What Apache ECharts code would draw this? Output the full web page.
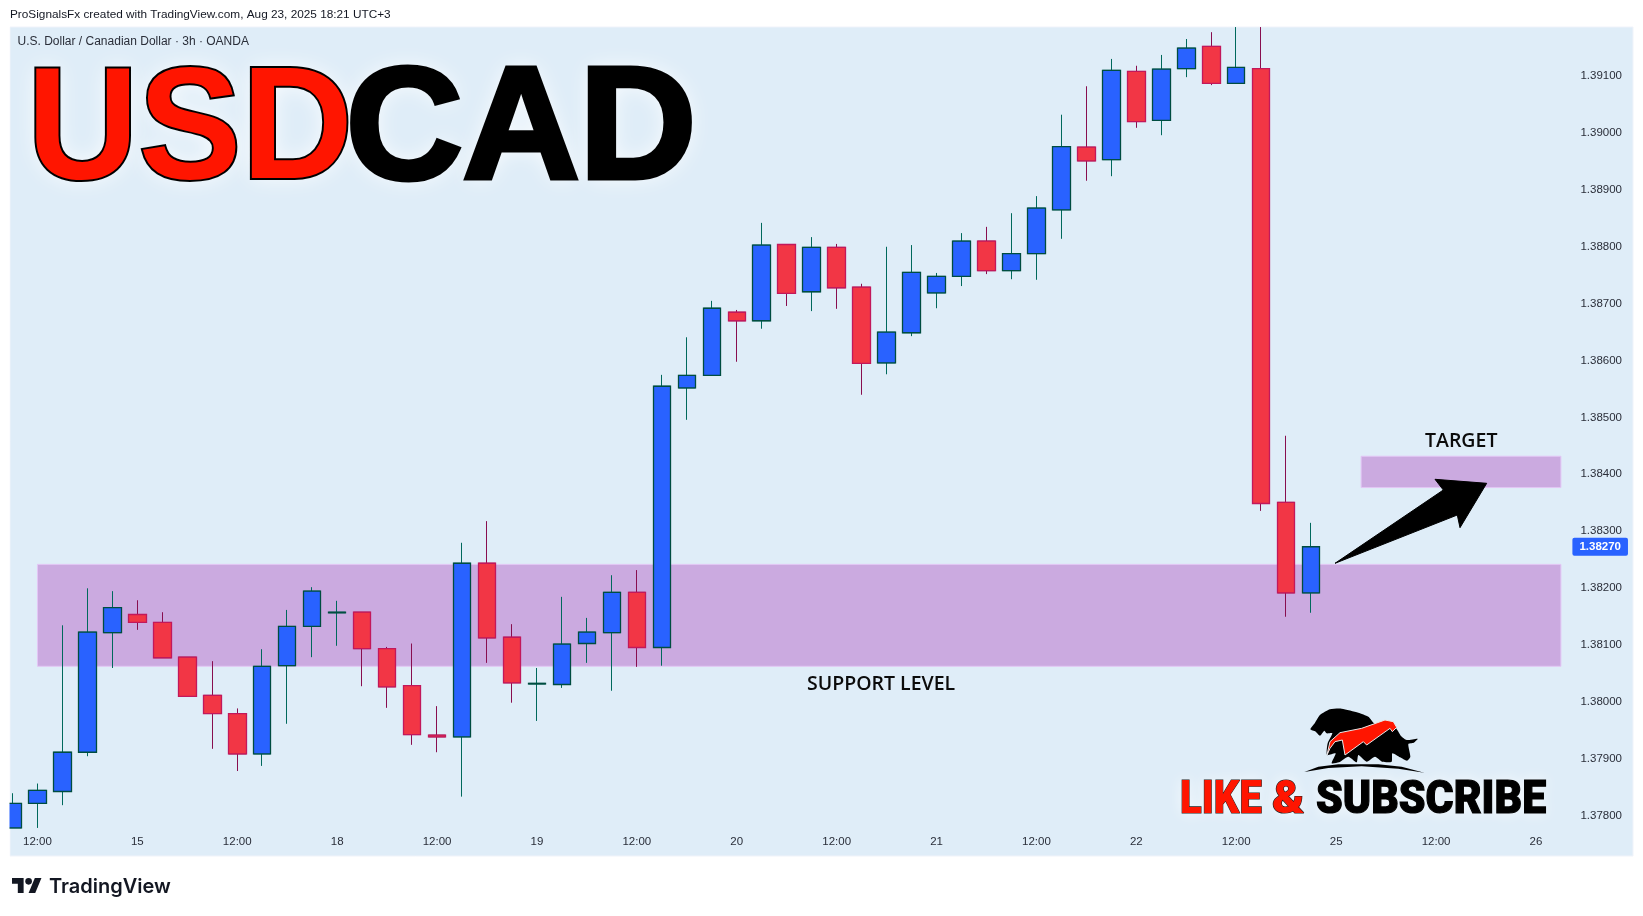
<!DOCTYPE html>
<html><head><meta charset="utf-8">
<style>html,body{margin:0;padding:0;background:#fff}#c{width:1643px;height:916px}</style>
<script src="https://cdn.jsdelivr.net/npm/echarts@6/dist/echarts.min.js"></script>
</head><body><div id="c"></div>
<script>
// 3h candles, index 0..52 (values that leave the visible pane are read at its edge)
const opens = [1.37776,1.37819,1.37840,1.37909,1.38119,1.38151,1.38137,1.38076,1.38009,1.37977,1.37906,1.38061,1.38130,1.38154,1.38155,1.38091,1.38026,1.37939,1.37936,1.38241,1.38111,1.38029,1.38028,1.38100,1.38119,1.38190,1.38093,1.38549,1.38571,1.38682,1.38667,1.38801,1.38718,1.38796,1.38726,1.38593,1.38646,1.38716,1.38745,1.38807,1.38755,1.38785,1.38862,1.38972,1.38950,1.39105,1.39019,1.39110,1.39149,1.39084,1.39110,1.38348,1.38189];
const closes = [1.37819,1.37842,1.37909,1.38120,1.38163,1.38137,1.38075,1.38007,1.37977,1.37906,1.38060,1.38130,1.38192,1.38155,1.38091,1.38024,1.37940,1.37936,1.38241,1.38110,1.38031,1.38030,1.38099,1.38120,1.38190,1.38093,1.38552,1.38571,1.38689,1.38667,1.38800,1.38715,1.38796,1.38725,1.38592,1.38647,1.38752,1.38745,1.38807,1.38755,1.38785,1.38865,1.38973,1.38948,1.39107,1.39017,1.39109,1.39146,1.39084,1.39112,1.38346,1.38189,1.38270];
const lows = [1.37776,1.37776,1.37816,1.37902,1.38057,1.38124,1.38075,1.38007,1.37915,1.37876,1.37885,1.37959,1.38076,1.38096,1.38025,1.37987,1.37922,1.37909,1.37831,1.38066,1.37996,1.37964,1.38022,1.38066,1.38017,1.38059,1.38061,1.38493,1.38571,1.38595,1.38653,1.38693,1.38684,1.38688,1.38537,1.38573,1.38640,1.38689,1.38728,1.38749,1.38740,1.38739,1.38811,1.38913,1.38921,1.39006,1.38993,1.39095,1.39081,1.39084,1.38333,1.38147,1.38154];
const highs = [1.37837,1.37854,1.38132,1.38197,1.38192,1.38176,1.38155,1.38076,1.38069,1.37986,1.38090,1.38159,1.38199,1.38175,1.38155,1.38094,1.38100,1.37990,1.38277,1.38315,1.38134,1.38057,1.38182,1.38145,1.38220,1.38229,1.38572,1.38638,1.38702,1.38686,1.38839,1.38801,1.38814,1.38802,1.38732,1.38797,1.38800,1.38751,1.38821,1.38832,1.38856,1.38886,1.39029,1.39079,1.39127,1.39115,1.39134,1.39162,1.39174,1.39183,1.39183,1.38465,1.38312];
// time axis: one slot per 3h bar; only the labelled slots have text
const timeLabels = ['','12:00','','','','15','','','','12:00','','','','18','','','','12:00','','','','19','','','','12:00','','','','20','','','','12:00','','','','21','','','','12:00','','','','22','','','','12:00','','','','25','','','','12:00','','','','26',''];
const priceTicks = [1.378,1.379,1.38,1.381,1.382,1.383,1.384,1.385,1.386,1.387,1.388,1.389,1.39,1.391];
const priceMin = 1.377759, priceMax = 1.391831;
const lastPrice = 1.38270;
const supportZone = {from:1, to:62, top:1.38239, bottom:1.38060};
const targetZone  = {from:54, to:62, top:1.38429, bottom:1.38374};

const candles = opens.map((o,i)=>[o,closes[i],lows[i],highs[i]]);
const bodies  = opens.map((o,i)=>[o,closes[i],Math.min(o,closes[i]),Math.max(o,closes[i])]);
const zoneStyle = {color:'#cbaae0',borderColor:'#e3c6f5',borderWidth:1,opacity:1};
const zone = z => [{xAxis:z.from,yAxis:z.top,itemStyle:zoneStyle},{xAxis:z.to,yAxis:z.bottom}];

const chart = echarts.init(document.getElementById('c'),null,{renderer:'canvas'});
const ui = 'Liberation Sans, Arial, sans-serif';
const red='#ff1500';
function bigText(text,x,y,font,fill,stroke,lw,blur,sx){
  return [
    {type:'text',x:x,y:y,z:48,scaleX:sx||1,silent:true,style:{text:text,font:font,fill:'#ffffff',shadowBlur:blur,shadowColor:'rgba(255,255,255,0.9)',textShadowBlur:blur,textShadowColor:'rgba(255,255,255,0.9)'}},
    {type:'text',x:x,y:y,z:50,scaleX:sx||1,silent:true,style:{text:text,font:font,fill:fill,stroke:stroke,lineWidth:lw,lineJoin:'round'}}
  ];
}
const logoBlack=[[46,88],[60,68],[75,45],[105,28],[140,26],[190,38],[220,50],[240,72],[300,82],[318,108],[335,120],[368,116],[356,128],[340,132],[346,170],[336,182],[315,172],[292,160],[290,185],[262,185],[240,170],[215,185],[190,165],[185,187],[160,170],[132,187],[110,190],[122,160],[96,165],[98,130],[112,100],[95,100],[88,92],[75,107],[62,95]];
const logoRed=[[96,165],[105,125],[135,98],[200,85],[270,60],[295,65],[305,82],[292,95],[285,85],[215,135],[205,125],[150,165],[142,120],[120,125],[105,145]];
const logoDome=[[28,216],[70,200],[130,193],[250,193],[320,200],[388,218],[310,206],[200,199],[100,204]];
chart.setOption({
  animation:false,
  backgroundColor:'#ffffff',
  grid:{left:-1.6,top:27,width:1575,height:801,containLabel:false},
  xAxis:{type:'category',data:timeLabels,boundaryGap:true,
    axisLine:{show:false},axisTick:{show:false},splitLine:{show:false},
    axisLabel:{show:true,interval:0,color:'#2a2e39',fontFamily:ui,fontSize:11.5,margin:8,hideOverlap:false}},
  yAxis:{type:'value',position:'right',min:priceMin,max:priceMax,scale:true,
    axisLine:{show:false},axisTick:{show:false},splitLine:{show:false},
    axisLabel:{customValues:priceTicks,color:'#2a2e39',fontFamily:ui,fontSize:11.5,margin:7,verticalAlign:'top',lineHeight:3,formatter:v=>v.toFixed(5),showMinLabel:true,showMaxLabel:true}},
  series:[
    {type:'candlestick',name:'wicks',data:candles,barWidth:18,z:3,clip:true,
     itemStyle:{color:'#2962ff',color0:'#f23645',borderColor:'#00695c',borderColor0:'#880e4f',borderWidth:1},
     markArea:{silent:true,z:1,data:[zone(supportZone),zone(targetZone)]},
     markLine:{silent:true,clip:false,precision:5,symbol:'none',lineStyle:{color:'transparent',width:0},data:[{yAxis:lastPrice}],
       label:{position:'end',distance:-1,opacity:1,formatter:()=>lastPrice.toFixed(5),color:'#fff',fontFamily:ui,fontSize:11.5,fontWeight:'bold',backgroundColor:'#2962ff',padding:[3,7,3,7],borderRadius:2}}},
    {type:'candlestick',name:'bodies',data:bodies,barWidth:18,z:4,clip:true,
     itemStyle:{color:'#2962ff',color0:'#f23645',borderColor:'#004d40',borderColor0:'#c2185b',borderWidth:1.3}}
  ],
  graphic:{elements:[
    {type:'rect',z:-5,silent:true,shape:{x:10,y:27,width:1623,height:829},style:{fill:'#dfedf8',stroke:'#f0f3fa',lineWidth:1}},
    {type:'rect',z:40,silent:true,shape:{x:0,y:0,width:9.5,height:916},style:{fill:'#ffffff'}},
    {type:'text',x:10,y:15,z:50,style:{text:'ProSignalsFx created with TradingView.com, Aug 23, 2025 18:21 UTC+3',font:'11.8px '+ui,fill:'#131722',textVerticalAlign:'middle'}},
    {type:'text',x:17.5,y:42,z:50,style:{text:'U.S. Dollar / Canadian Dollar · 3h · OANDA',font:'12px '+ui,fill:'#2a2e39',textVerticalAlign:'middle'}},
    ...bigText('USD',27,54,'bold 160px "Liberation Sans"',red,'#000',4,22,0.965),
    ...bigText('CAD',346,54,'bold 160px "Liberation Sans"','#000','#000',5,22,1.01),
    {type:'text',x:807,y:684,z:50,style:{text:'SUPPORT LEVEL',font:'600 19.5px "Open Sans", sans-serif',fill:'#0b0b0b',textVerticalAlign:'middle'}},
    {type:'text',x:1425,y:441,z:50,style:{text:'TARGET',font:'600 19.5px "Open Sans", sans-serif',fill:'#0b0b0b',textVerticalAlign:'middle'}},
    {type:'polygon',z:50,silent:true,shape:{points:[[1335,563.3],[1443.3,490],[1435,479.3],[1486.7,483.3],[1460,527.7],[1457.3,515]]},style:{fill:'#000',stroke:'#000',lineWidth:1,lineJoin:'round'}},
    ...bigText('LIKE',1180,778,'900 46px Roboto',red,'#222',1.2,14,0.87),
    ...bigText('&',1272,778,'900 46px Roboto',red,'#222',1.2,14,1.05),
    ...bigText('SUBSCRIBE',1316,778,'900 46px Roboto','#000','#000',1.2,14,0.93),
    {type:'group',x:1295,y:700,scaleX:1/3,scaleY:1/3,z:50,silent:true,children:[
      {type:'polygon',z:50,shape:{points:logoBlack,smooth:0.2},style:{fill:'#000'}},
      {type:'polygon',z:51,shape:{points:logoRed},style:{fill:red,stroke:'#e8e8e8',lineWidth:3}},
      {type:'polygon',z:50,shape:{points:logoDome},style:{fill:'#000'}}
    ]},
    {type:'polygon',z:50,silent:true,x:12,y:874.7,scaleX:0.83,scaleY:0.83,shape:{points:[[14,22],[7,22],[7,11],[0,11],[0,4],[14,4]]},style:{fill:'#131722'}},
    {type:'polygon',z:50,silent:true,x:12,y:874.7,scaleX:0.83,scaleY:0.83,shape:{points:[[28,22],[20,22],[27.5,4],[35.5,4]]},style:{fill:'#131722'}},
    {type:'circle',z:50,silent:true,x:12,y:874.7,scaleX:0.83,scaleY:0.83,shape:{cx:20,cy:8,r:4},style:{fill:'#131722'}},
    {type:'text',x:49,y:886.5,z:50,style:{text:'TradingView',font:'600 20px Inter, sans-serif',fill:'#131722',textVerticalAlign:'middle'}}
  ]}
});
</script></body></html>
